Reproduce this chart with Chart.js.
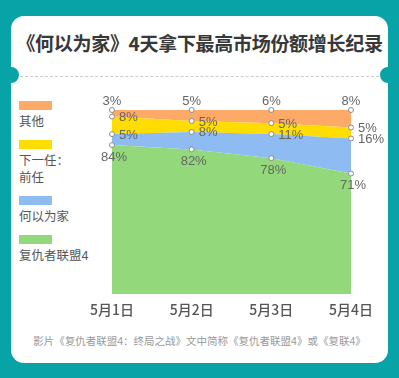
<!DOCTYPE html>
<html><head><meta charset="utf-8">
<script src="https://cdn.jsdelivr.net/npm/chart.js@4/dist/chart.umd.min.js"></script>
<style>
html,body{margin:0;padding:0;}
body{width:399px;height:378px;background:#08a3a6;position:relative;overflow:hidden;font-family:"Liberation Sans","Noto Sans CJK SC",sans-serif;}
#card{position:absolute;left:11px;top:16px;width:377px;height:347px;background:#fff;border-radius:13px;}
.notch{position:absolute;width:16px;height:16px;border-radius:50%;background:#08a3a6;top:67px;}
#title{position:absolute;left:0;width:399px;top:31px;text-align:center;font-weight:bold;font-size:19px;font-family:"Noto Sans CJK SC",sans-serif;color:#383838;line-height:24px;white-space:nowrap;letter-spacing:-0.3px;}
#dash{position:absolute;left:20px;width:359px;top:76px;border-top:1px dashed #ccc;}
#legend{position:absolute;left:19px;top:101px;}
.item{margin-bottom:9px;}
.item .box{width:33px;height:9px;}
.item .lab{margin-top:4px;font-size:12.5px;line-height:17px;color:#555;font-family:"Liberation Sans","Noto Sans CJK SC",sans-serif;}
#note{position:absolute;left:0;width:399px;top:334px;text-align:center;font-size:10.5px;line-height:15px;color:#999;white-space:nowrap;font-family:"Liberation Sans","Noto Sans CJK SC",sans-serif;}
canvas{position:absolute;left:0;top:0;}
</style>
</head><body>
<div id="card"></div>
<div class="notch" style="left:3px"></div>
<div class="notch" style="left:380px"></div>
<div id="title">《何以为家》4天拿下最高市场份额增长纪录</div>
<div id="dash"></div>
<div id="legend"></div>
<div id="note">影片《复仇者联盟4：终局之战》文中简称《复仇者联盟4》或《复联4》</div>
<canvas id="c" width="399" height="378"></canvas>
<script>
const categories = ['5月1日', '5月2日', '5月3日', '5月4日'];
const avengers = [84, 82, 78, 71];     // 复仇者联盟4
const capernaum = [5, 8, 11, 16];      // 何以为家
const exes = [8, 5, 5, 5];             // 下一任：前任
const others = [3, 5, 6, 8];           // 其他
const seriesNames = ['复仇者联盟4', '何以为家', '下一任：前任', '其他'];

const colors = ['#93d87b', '#8dbbf2', '#ffdd00', '#fdaa68'];
const labelPos = ['below', 'right', 'right', 'above'];
const seriesData = [avengers, capernaum, exes, others];

// legend (top to bottom: reverse of stacking)
const legend = document.getElementById('legend');
for (let i = seriesNames.length - 1; i >= 0; i--) {
  const it = document.createElement('div');
  it.className = 'item';
  const b = document.createElement('div');
  b.className = 'box';
  b.style.background = colors[i];
  const l = document.createElement('div');
  l.className = 'lab';
  const parts = seriesNames[i].split('：');
  if (parts.length > 1) {
    l.appendChild(document.createTextNode(parts[0] + '：'));
    l.appendChild(document.createElement('br'));
    l.appendChild(document.createTextNode(parts[1]));
  } else {
    l.textContent = seriesNames[i];
  }
  it.appendChild(b); it.appendChild(l);
  legend.appendChild(it);
}

const labelPlugin = {
  id: 'pctLabels',
  afterDatasetsDraw(chart) {
    const ctx = chart.ctx;
    ctx.save();
    ctx.font = '13px "Liberation Sans", sans-serif';
    ctx.fillStyle = '#666';
    chart.data.datasets.forEach((ds, di) => {
      const meta = chart.getDatasetMeta(di);
      meta.data.forEach((pt, i) => {
        const txt = ds.data[i] + '%';
        const pos = labelPos[di];
        if (pos === 'below') {
          ctx.textAlign = 'center'; ctx.textBaseline = 'middle';
          ctx.fillText(txt, pt.x + 2, pt.y + 12);
        } else if (pos === 'above') {
          ctx.textAlign = 'center'; ctx.textBaseline = 'middle';
          ctx.fillText(txt, pt.x, pt.y - 9);
        } else {
          ctx.textAlign = 'left'; ctx.textBaseline = 'middle';
          ctx.fillText(txt, pt.x + 7, pt.y + 1);
        }
      });
    });
    ctx.restore();
  }
};

new Chart(document.getElementById('c'), {
  type: 'line',
  data: {
    labels: categories,
    datasets: seriesData.map((d, i) => ({
      label: seriesNames[i],
      data: d,
      backgroundColor: colors[i],
      borderColor: colors[i],
      borderWidth: 0,
      fill: i === 0 ? 'start' : '-1',
      tension: 0,
      pointRadius: 2.5,
      pointBackgroundColor: '#fff',
      pointBorderColor: '#8a8a8a',
      pointBorderWidth: 1,
      clip: false
    }))
  },
  options: {
    responsive: false,
    animation: false,
    devicePixelRatio: 1,
    layout: { padding: { left: 112, right: 48, top: 110, bottom: 54 } },
    plugins: { legend: { display: false }, tooltip: { enabled: false } },
    scales: {
      x: {
        type: 'category',
        offset: false,
        grid: { display: false, drawTicks: false },
        border: { display: false },
        ticks: { color: '#555', padding: 7, font: { size: 14, weight: 500, family: '"Noto Sans CJK SC", sans-serif' }, maxRotation: 0 },
        afterFit: s => { s.height = 30; }
      },
      y: { stacked: true, min: 16, max: 100, display: false }
    }
  },
  plugins: [labelPlugin]
});
</script>
</body></html>
